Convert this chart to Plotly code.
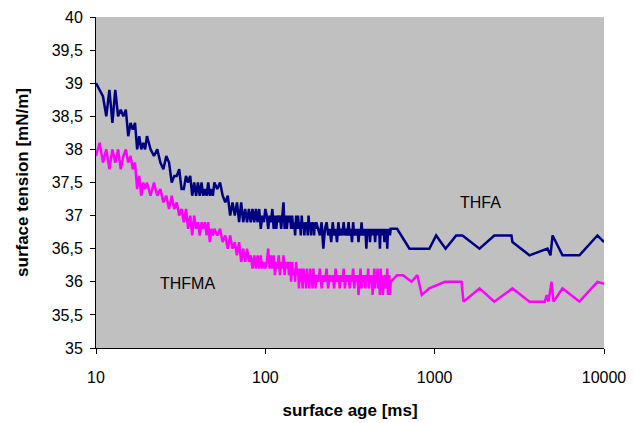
import plotly.graph_objects as go

# surface age [ms] for the densely sampled part (shared by both series)
AGE_DENSE = [10, 10.5, 11, 11.5, 12, 12.5, 13, 13.5, 14, 14.5, 15, 15.5, 16, 16.5, 17, 17.5, 18, 18.5, 19, 19.5, 20,
             21, 22, 23, 24, 25, 26, 27, 28, 29, 30, 31, 32, 33, 34, 35, 36, 37, 38, 39, 40,
             41, 42, 43, 44, 45, 46, 47, 48, 49, 50,
             52, 54, 56, 58, 60, 62, 64, 66, 68, 70, 72, 74, 76, 78, 80, 82, 84, 86, 88, 90, 92, 94, 96, 98, 100,
             102, 104, 106, 108, 110, 112, 114, 116, 118, 120, 122, 124, 126, 128, 130, 132, 134, 136, 138, 140,
             142, 144, 146, 148, 150, 152, 154, 156, 158, 160, 162, 164, 166, 168, 170, 172, 174, 176, 178, 180,
             182, 184, 186, 188, 190, 192, 194, 196, 198, 200,
             205, 210, 215, 220, 225, 230, 235, 240, 245, 250, 255, 260, 265, 270, 275, 280, 285, 290, 295, 300,
             305, 310, 315, 320, 325, 330, 335, 340, 345, 350, 355, 360, 365, 370, 375, 380, 385, 390, 395, 400,
             405, 410, 415, 420, 425, 430, 435, 440, 445, 450, 455, 460, 465, 470, 475, 480, 485, 490, 495, 500,
             505, 510, 515, 520, 525, 530, 535, 540, 545, 550]

THFA_DENSE = [39.0, 38.9, 38.8, 38.5, 38.9, 38.4, 38.9, 38.5, 38.6, 38.5, 38.6, 38.2, 38.4, 38.3, 38.4, 38.0, 38.2, 38.0, 38.1, 38.0, 38.2,
              38.0, 37.9, 38.0, 37.8, 37.7, 37.9, 37.8, 37.5, 37.6, 37.6, 37.7, 37.4, 37.4, 37.6, 37.5, 37.6, 37.3, 37.5, 37.3, 37.5,
              37.3, 37.5, 37.3, 37.4, 37.3, 37.5, 37.3, 37.4, 37.3, 37.5,
              37.4, 37.5, 37.3, 37.2, 37.3, 37.0, 37.2, 37.0, 37.2, 36.9, 37.2, 36.9, 37.1, 36.9, 37.1, 36.9, 37.1, 36.9, 37.1, 36.9,
              37.1, 36.8, 37.0, 36.9, 37.1,
              37.0, 36.8, 37.0, 36.9, 37.1, 36.8, 37.0, 36.8, 37.0, 36.9, 37.0, 36.8, 37.0, 37.2, 36.8, 37.0, 36.8, 37.0, 36.9, 37.0,
              36.8, 37.0, 36.8, 36.9, 36.7, 37.0, 36.8, 37.0, 36.8, 36.9, 36.7, 37.0, 36.8, 36.9, 36.7, 36.9, 36.8, 36.9, 36.7, 37.0,
              36.8, 36.9, 36.7, 36.9, 36.8, 36.9, 36.7, 36.9, 36.8, 36.9,
              36.8, 36.7, 36.9, 36.5, 36.8, 36.9, 36.7, 36.8, 36.6, 36.9, 36.7, 36.8, 36.6, 36.9, 36.7, 36.8, 36.7, 36.9, 36.7, 36.8,
              36.7, 36.9, 36.7, 36.8, 36.6, 36.9, 36.7, 36.8, 36.7, 36.8, 36.6, 36.8, 36.7, 36.9, 36.7, 36.8, 36.7, 36.8, 36.5, 36.8,
              36.7, 36.8, 36.6, 36.8, 36.7, 36.8, 36.7, 36.8, 36.6, 36.8, 36.7, 36.8, 36.7, 36.8, 36.5, 36.8, 36.7, 36.8, 36.7, 36.8,
              36.6, 36.8, 36.7, 36.8, 36.5, 36.8, 36.7, 36.8, 36.7, 36.8]

THFMA_DENSE = [37.9, 38.1, 37.8, 38.0, 37.7, 38.0, 37.8, 38.0, 37.7, 37.9, 38.0, 37.8, 37.9, 37.7, 37.8, 37.4, 37.6, 37.3, 37.5, 37.4, 37.5,
               37.3, 37.5, 37.3, 37.4, 37.2, 37.3, 37.1, 37.3, 37.1, 37.2, 37.0, 37.1, 36.9, 37.1, 36.8, 37.0, 36.7, 37.0, 36.8, 36.9,
               36.7, 36.9, 36.8, 36.9, 36.7, 36.9, 36.6, 36.8, 36.7, 36.8,
               36.7, 36.8, 36.6, 36.7, 36.5, 36.7, 36.5, 36.6, 36.4, 36.6, 36.3, 36.5, 36.3, 36.5, 36.3, 36.4, 36.2, 36.4, 36.2, 36.4,
               36.2, 36.4, 36.2, 36.3, 36.2,
               36.3, 36.5, 36.2, 36.4, 36.2, 36.4, 36.1, 36.3, 36.2, 36.4, 36.1, 36.3, 36.2, 36.4, 36.1, 36.3, 36.2, 36.3, 36.1, 36.3,
               36.0, 36.3, 36.1, 36.2, 36.0, 36.3, 36.1, 36.2, 35.9, 36.2, 36.0, 36.2, 35.9, 36.2, 36.0, 36.1, 35.9, 36.2, 36.0, 36.1,
               35.9, 36.2, 36.0, 36.1, 35.9, 36.2, 36.0, 36.1, 35.9, 36.1,
               36.0, 36.2, 35.9, 36.1, 36.0, 36.2, 35.9, 36.1, 36.0, 36.1, 35.9, 36.2, 36.0, 36.1, 35.9, 36.1, 36.0, 36.2, 35.9, 36.1,
               36.0, 36.1, 35.9, 36.1, 36.0, 36.2, 35.9, 36.1, 36.0, 36.1, 35.8, 36.0, 36.2, 35.9, 36.1, 36.0, 36.1, 35.9, 36.1, 36.0,
               36.2, 35.9, 36.1, 36.0, 36.1, 35.8, 36.0, 36.2, 35.9, 36.1, 36.0, 36.2, 35.9, 36.0, 35.8, 36.2, 35.9, 36.1, 35.8, 36.0,
               35.9, 36.1, 36.0, 35.9, 36.2, 35.8, 36.0, 36.1, 35.8, 36.0]

# sparse long-time part
THFA_TAIL_AGE = [600, 710, 930, 1020, 1160, 1340, 1460, 1840, 2250, 2840, 2880, 3630, 4640, 4830, 4970, 5690, 7160, 9140, 10000]
THFA_TAIL = [36.8, 36.5, 36.5, 36.7, 36.5, 36.7, 36.7, 36.5, 36.7, 36.7, 36.6, 36.4, 36.5, 36.4, 36.7, 36.4, 36.4, 36.7, 36.6]

THFMA_TAIL_AGE = [600, 650, 730, 790, 840, 930, 1150, 1440, 1480, 1840, 2250, 2880, 3630, 4470, 4590, 4700, 4900, 5030,
                  5690, 7160, 9140, 10000]
THFMA_TAIL = [36.1, 36.1, 36.0, 36.1, 35.8, 35.9, 36.0, 36.0, 35.7, 35.9, 35.7, 35.9, 35.7, 35.7, 35.8, 35.7, 36.0, 35.7,
              35.9, 35.7, 36.0, 35.97]

Y_TICKS = [35, 35.5, 36, 36.5, 37, 37.5, 38, 38.5, 39, 39.5, 40]
Y_TICK_TEXT = ["35", "35,5", "36", "36,5", "37", "37,5", "38", "38,5", "39", "39,5", "40"]
X_TICKS = [10, 100, 1000, 10000]
X_TICK_TEXT = ["10", "100", "1000", "10000"]

FONT = "Liberation Sans, Arial, sans-serif"

fig = go.Figure()
fig.add_trace(go.Scatter(x=AGE_DENSE + THFA_TAIL_AGE, y=THFA_DENSE + THFA_TAIL, mode="lines",
                         line=dict(color="#000080", width=2.5), name="THFA", showlegend=False))
fig.add_trace(go.Scatter(x=AGE_DENSE + THFMA_TAIL_AGE, y=THFMA_DENSE + THFMA_TAIL, mode="lines",
                         line=dict(color="#FF00FF", width=2.5), name="THFMA", showlegend=False))

fig.add_annotation(x=3.271, y=37.2, xref="x", yref="y", text="THFA", showarrow=False,
                   font=dict(family=FONT, size=16, color="black"))
fig.add_annotation(x=1.543, y=35.98, xref="x", yref="y", text="THFMA", showarrow=False,
                   font=dict(family=FONT, size=16, color="black"))

fig.update_layout(
    width=634, height=423,
    margin=dict(l=96, r=30, t=17, b=75),
    paper_bgcolor="white", plot_bgcolor="#c0c0c0",
    font=dict(family=FONT, size=16, color="black"),
    xaxis=dict(type="log", range=[1, 4], tickvals=X_TICKS, ticktext=X_TICK_TEXT, automargin=False,
               showgrid=False, zeroline=False, showline=True, linecolor="#000000", linewidth=1,
               ticks="outside", ticklen=5, tickcolor="#000000", ticklabelstandoff=10,
               tickfont=dict(family=FONT, size=16),
               title=dict(text="<b>surface age [ms]</b>", font=dict(family=FONT, size=17), standoff=18)),
    yaxis=dict(range=[35, 40], tickvals=Y_TICKS, ticktext=Y_TICK_TEXT, automargin=False,
               showgrid=False, zeroline=False, showline=True, linecolor="#000000", linewidth=1,
               ticks="outside", ticklen=5, tickcolor="#000000", ticklabelstandoff=4,
               tickfont=dict(family=FONT, size=16),
               title=dict(text="<b>surface tension [mN/m]</b>", font=dict(family=FONT, size=17), standoff=18)),
)

fig.write_html("out.html", config={"displayModeBar": False},
               post_script="document.body.style.margin='0';document.body.style.overflow='hidden';")
